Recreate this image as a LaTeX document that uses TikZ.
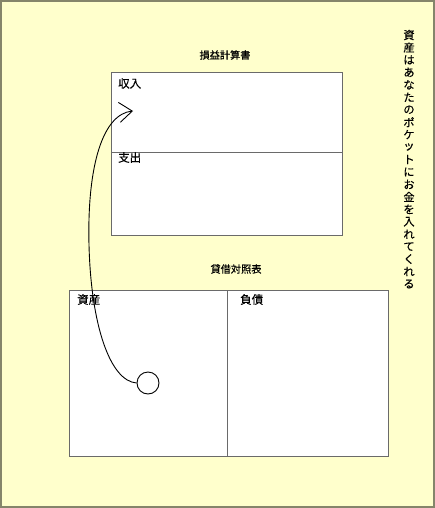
\documentclass[tikz,border=0pt]{standalone}
\usepackage{fontspec}
\setmainfont{Noto Sans CJK JP}[FakeBold=0.3]
\usetikzlibrary{arrows.meta}
\definecolor{paper}{HTML}{FFFFCC}
\definecolor{rim}{HTML}{85856A}
\definecolor{boxline}{HTML}{6A6A6A}
\begin{document}
\begin{tikzpicture}[x=1pt,y=-1pt,
  sheet/.style={draw=boxline,fill=white,line width=1pt},
  heading/.style={font=\fontsize{10.2}{12}\selectfont},
  item/.style={font=\fontsize{11.5}{13}\selectfont,anchor=north west,inner sep=0pt}]
\useasboundingbox (0,0) rectangle (435,508);
\path[fill=paper,draw=rim,line width=2pt] (1,1) rectangle (434,507);

% income statement
\node[heading] (pltitle) at (225,55) {損益計算書};
\path[sheet] (111,73) rectangle (342,235);
\path[draw=boxline,line width=1pt] (111,152) -- (342,152);
\node[item] (income) at (118,78) {収入};
\node[item] (expense) at (118,152) {支出};

% balance sheet
\node[heading] (bstitle) at (236,269) {貸借対照表};
\path[sheet] (69,290) rectangle (388,456);
\path[draw=boxline,line width=1pt] (227,290) -- (227,456);
\node[item] (asset) at (77,294) {資産};
\node[item] (debt) at (240,294) {負債};

% pocket
\node[draw,circle,fill=white,minimum size=22pt,inner sep=0pt,line width=0.9pt] (pocket) at (148,383) {};
\coordinate (tip) at (133,111);
\path[draw,line width=0.9pt,-{Straight Barb[length=13pt,width=20pt]}]
  (pocket.west) .. controls (110,381) and (91,325) .. (89,245)
  .. controls (87,165) and (103,114) .. (tip);

% vertical text
\foreach \c [count=\i] in {資,産,は,あ,な,た,の,ポ,ケ,ッ,ト,に,お,金,を,入,れ,て,く,れ,る}
  \node[font=\fontsize{11.2}{13}\selectfont,inner sep=0pt] (v\i) at (409,35+12.45*\i-12.45) {\c};
\end{tikzpicture}
\end{document}
